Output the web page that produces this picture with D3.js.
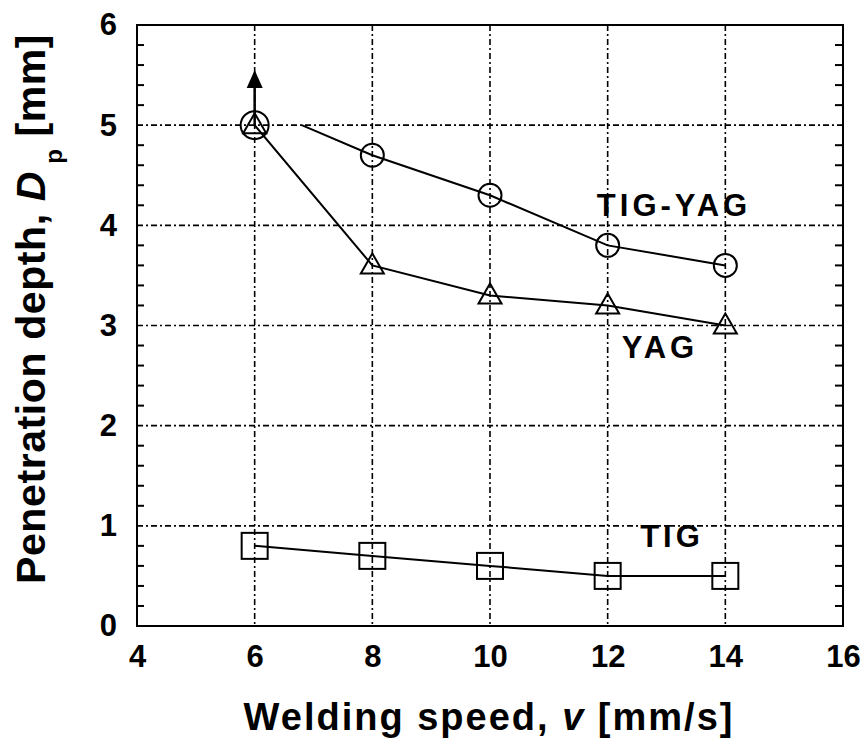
<!DOCTYPE html>
<html>
<head>
<meta charset="utf-8">
<script src="https://cdn.jsdelivr.net/npm/d3@7"></script>
<style>
  body { margin: 0; background: #fff; }
  text { font-family: "Liberation Sans", Arial, sans-serif; font-weight: bold; }
</style>
</head>
<body>
<div class="chart"></div>
<script>
// data
var speed = [6, 8, 10, 12, 14];
var tigYag = [5.0, 4.7, 4.3, 3.8, 3.6];
var yag = [5.0, 3.6, 3.3, 3.2, 3.0];
var tig = [0.8, 0.7, 0.6, 0.5, 0.5];

// the TIG-YAG line starts a bit right of the first point
var tigYagLineX = [6.8, 8, 10, 12, 14];
var tigYagLineY = [5.0, 4.7, 4.3, 3.8, 3.6];

// arrow above the first point (penetration beyond)
var arrowX = 6;
var arrowFrom = 5.0;
var arrowTo = 5.55;

var xTicks = [4, 6, 8, 10, 12, 14, 16];
var yTicks = [0, 1, 2, 3, 4, 5, 6];

var svgWidth = 867;
var svgHeight = 738;

var margin = {
  top: 25,
  right: 24,
  bottom: 112,
  left: 137
};

var width = svgWidth - margin.left - margin.right;
var height = svgHeight - margin.top - margin.bottom;

var svg = d3
  .select(".chart")
  .append("svg")
  .attr("width", svgWidth)
  .attr("height", svgHeight);

var chartGroup = svg.append("g")
  .attr("transform", `translate(${margin.left}, ${margin.top})`);

var xLinearScale = d3.scaleLinear()
  .domain([4, 16])
  .range([0, width]);

var yLinearScale = d3.scaleLinear()
  .domain([0, 6])
  .range([height, 0]);

// grid
var gridGroup = chartGroup.append("g")
  .attr("stroke", "#000")
  .attr("stroke-width", 1.6)
  .attr("stroke-dasharray", "6,3,2,3");

gridGroup.selectAll(".vgrid")
  .data(xTicks.slice(1, -1))
  .enter()
  .append("line")
  .attr("x1", d => xLinearScale(d))
  .attr("x2", d => xLinearScale(d))
  .attr("y1", 0)
  .attr("y2", height);

gridGroup.selectAll(".hgrid")
  .data(yTicks.slice(1, -1))
  .enter()
  .append("line")
  .attr("x1", 0)
  .attr("x2", width)
  .attr("y1", d => yLinearScale(d))
  .attr("y2", d => yLinearScale(d));

// axes
var bottomAxis = d3.axisBottom(xLinearScale)
  .tickValues(xTicks)
  .tickFormat(d3.format("d"))
  .tickSize(0)
  .tickPadding(12);

var leftAxis = d3.axisLeft(yLinearScale)
  .tickValues(yTicks)
  .tickFormat(d3.format("d"))
  .tickSize(0)
  .tickPadding(20);

var xAxis = chartGroup.append("g")
  .attr("transform", `translate(0, ${height})`)
  .call(bottomAxis);

var yAxis = chartGroup.append("g")
  .call(leftAxis);

[xAxis, yAxis].forEach(function (ax) {
  ax.select(".domain").remove();
  ax.selectAll("text")
    .style("font-size", "31px")
    .style("font-weight", "bold")
    .style("font-family", "Liberation Sans, Arial, sans-serif")
    .attr("fill", "#000");
});
xAxis.selectAll("text").attr("dy", "0.95em");

// minor ticks on left and right
var minorTicks = d3.range(0, 30).map(d => d / 5).filter(d => d % 1 !== 0);

chartGroup.append("g")
  .selectAll("line")
  .data(minorTicks)
  .enter()
  .append("line")
  .attr("x1", 0)
  .attr("x2", 7)
  .attr("y1", d => yLinearScale(d))
  .attr("y2", d => yLinearScale(d))
  .attr("stroke", "#000")
  .attr("stroke-width", 2);

chartGroup.append("g")
  .selectAll("line")
  .data(minorTicks)
  .enter()
  .append("line")
  .attr("x1", width)
  .attr("x2", width - 8)
  .attr("y1", d => yLinearScale(d))
  .attr("y2", d => yLinearScale(d))
  .attr("stroke", "#000")
  .attr("stroke-width", 2);

// frame
chartGroup.append("rect")
  .attr("x", 0)
  .attr("y", 0)
  .attr("width", width)
  .attr("height", height)
  .attr("fill", "none")
  .attr("stroke", "#000")
  .attr("stroke-width", 2);

// lines
var line = d3.line()
  .x(d => xLinearScale(d[0]))
  .y(d => yLinearScale(d[1]));

function drawLine(xs, ys) {
  chartGroup.append("path")
    .datum(xs.map((x, i) => [x, ys[i]]))
    .attr("d", line)
    .attr("fill", "none")
    .attr("stroke", "#000")
    .attr("stroke-width", 2);
}

drawLine(tigYagLineX, tigYagLineY);
drawLine(speed, yag);
drawLine(speed, tig);

// arrow
chartGroup.append("line")
  .attr("x1", xLinearScale(arrowX))
  .attr("x2", xLinearScale(arrowX))
  .attr("y1", yLinearScale(arrowFrom))
  .attr("y2", yLinearScale(arrowTo) + 14)
  .attr("stroke", "#000")
  .attr("stroke-width", 2.5);

chartGroup.append("path")
  .attr("d", d3.line()([
    [xLinearScale(arrowX), yLinearScale(arrowTo)],
    [xLinearScale(arrowX) - 8, yLinearScale(arrowTo) + 18],
    [xLinearScale(arrowX) + 8, yLinearScale(arrowTo) + 18]
  ]) + "Z")
  .attr("fill", "#000");

// markers
var markerStyle = g => g
  .attr("fill", "none")
  .attr("stroke", "#000")
  .attr("stroke-width", 2);

chartGroup.append("g")
  .call(markerStyle)
  .selectAll("circle")
  .data(speed)
  .enter()
  .append("circle")
  .attr("cx", d => xLinearScale(d))
  .attr("cy", (d, i) => yLinearScale(tigYag[i]))
  .attr("r", (d, i) => i === 0 ? 14 : 11.5);

chartGroup.append("g")
  .call(markerStyle)
  .selectAll("path")
  .data(speed)
  .enter()
  .append("path")
  .attr("transform", (d, i) => `translate(${xLinearScale(d)}, ${yLinearScale(yag[i])})`)
  .attr("d", "M0,-12L11.5,8L-11.5,8Z");

chartGroup.append("g")
  .call(markerStyle)
  .selectAll("rect")
  .data(speed)
  .enter()
  .append("rect")
  .attr("x", d => xLinearScale(d) - 13)
  .attr("y", (d, i) => yLinearScale(tig[i]) - 13)
  .attr("width", 26)
  .attr("height", 26);

// series labels
var seriesLabels = [
  { text: "TIG-YAG", x: 674, y: 216 },
  { text: "YAG", x: 660, y: 358 },
  { text: "TIG", x: 672, y: 547 }
];

svg.selectAll(".series-label")
  .data(seriesLabels)
  .enter()
  .append("text")
  .attr("class", "series-label")
  .attr("x", d => d.x)
  .attr("y", d => d.y)
  .attr("text-anchor", "middle")
  .style("font-size", "31px")
  .style("letter-spacing", "4px")
  .text(d => d.text);

// axis titles
var xTitle = svg.append("text")
  .attr("x", 489)
  .attr("y", 730)
  .attr("text-anchor", "middle")
  .style("font-size", "38px")
  .style("letter-spacing", "2px");
xTitle.append("tspan").text("Welding speed, ");
xTitle.append("tspan").style("font-style", "italic").text("v");
xTitle.append("tspan").text(" [mm/s]");

var yTitle = svg.append("text")
  .attr("transform", "translate(45, 584) rotate(-90)")
  .attr("text-anchor", "start")
  .style("font-size", "41px")
  .style("letter-spacing", "0.6px");
yTitle.append("tspan").text("Penetration depth, ");
yTitle.append("tspan").style("font-style", "italic").text("D");
yTitle.append("tspan").attr("dy", 17).style("font-size", "24px").text(" p");
yTitle.append("tspan").attr("dy", -17).text(" [mm]");
</script>
</body>
</html>
